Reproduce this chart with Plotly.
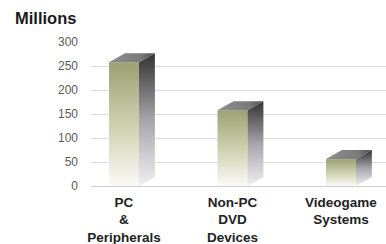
import plotly.graph_objects as go

categories = ["PC<br>&<br>Peripherals", "Non-PC<br>DVD<br>Devices", "Videogame<br>Systems"]
values = [258, 158, 56]
y_ticks = [0, 50, 100, 150, 200, 250, 300]

HW = 0.138   # half width of front face (x units)
DX = 0.147   # depth offset in x
DY = 18.75   # depth offset in y

fig = go.Figure()
for i, v in enumerate(values):
    x0, x1 = i - HW, i + HW
    # front face
    fig.add_trace(go.Scatter(
        x=[x0, x1, x1, x0, x0], y=[0, 0, v, v, 0], mode="lines",
        line=dict(width=0), fill="toself",
        fillgradient=dict(type="vertical", start=0, stop=v,
                          colorscale=[[0, "#fafaf5"], [0.5, "#cdd0ae"], [1, "#9ba174"]]),
        hoverinfo="skip", showlegend=False))
    # side face
    fig.add_trace(go.Scatter(
        x=[x1, x1 + DX, x1 + DX, x1, x1], y=[0, DY, v + DY, v, 0], mode="lines",
        line=dict(width=0), fill="toself",
        fillgradient=dict(type="vertical", start=0, stop=v + DY,
                          colorscale=[[0, "#f0f0f4"], [0.5, "#a4a4aa"], [1, "#333333"]]),
        hoverinfo="skip", showlegend=False))
    # top face
    fig.add_trace(go.Scatter(
        x=[x0, x1, x1 + DX, x0 + DX, x0], y=[v, v, v + DY, v + DY, v], mode="lines",
        line=dict(width=0), fill="toself",
        fillgradient=dict(type="horizontal", start=x0, stop=x1 + DX,
                          colorscale=[[0, "#8e8e8e"], [0.7, "#7a7a7a"], [1, "#4a4a4a"]]),
        hoverinfo="skip", showlegend=False))

fig.update_layout(
    width=386, height=244,
    margin=dict(l=91, r=0, t=42, b=58),
    paper_bgcolor="white", plot_bgcolor="white",
    font=dict(family="Liberation Sans, Arial, sans-serif"),
    title=dict(text="<b>Millions</b>", x=15 / 386, xanchor="left",
               y=1 - 18 / 244, yanchor="middle", yref="container",
               font=dict(size=16.5, color="#1a1a1a")),
    xaxis=dict(range=[-0.304, 2.415], tickvals=[0, 1, 2],
               ticktext=["<b>" + c.replace("<br>", "</b><br><b>") + "</b>" for c in categories],
               showgrid=False, zeroline=False, showline=False, ticks="",
               ticklabelstandoff=6,
               tickfont=dict(size=13.5, color="#222222"), fixedrange=True),
    yaxis=dict(range=[0, 300], tickvals=y_ticks, showgrid=True, gridcolor="#dcdcdc",
               gridwidth=1, zeroline=True, zerolinecolor="#cfcfcf", zerolinewidth=1,
               showline=False, ticks="", ticklabelstandoff=12,
               tickfont=dict(size=12, color="#5a5a5a"), fixedrange=True),
)

fig.write_html("out.html", config={"displayModeBar": False},
               post_script="document.body.style.margin='0';")
